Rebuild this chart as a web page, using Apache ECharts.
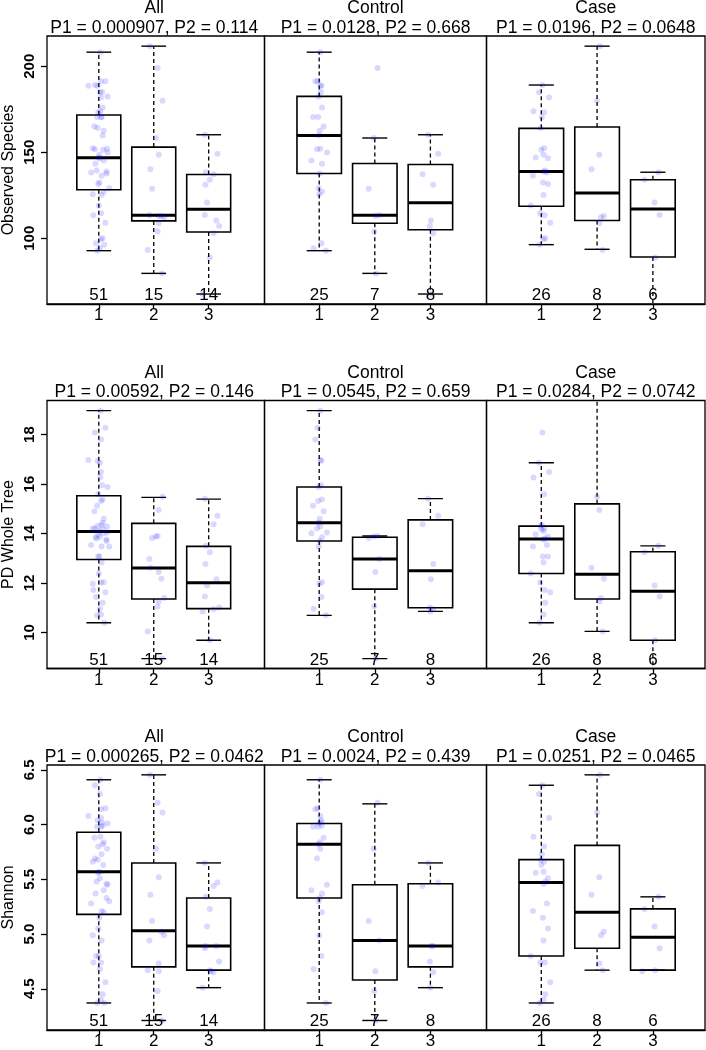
<!DOCTYPE html>
<html><head><meta charset="utf-8">
<script src="https://cdn.jsdelivr.net/npm/echarts@6/dist/echarts.min.js"></script>
<style>html,body{margin:0;padding:0;background:#fff}#c{width:706px;height:1050px}</style>
</head><body><div id="c"></div>
<script>
// ---------------- data ----------------
const panelNames = ['All', 'Control', 'Case'];
const groupLabels = ['1', '2', '3'];
const groupX = [1, 2, 3];
const countsAll = [51, 15, 14];
const countsControl = [25, 7, 8];
const countsCase = [26, 8, 6];
const metricNames = ['Observed Species', 'PD Whole Tree', 'Shannon'];

const pObs = ['P1 = 0.000907, P2 = 0.114', 'P1 = 0.0128, P2 = 0.668', 'P1 = 0.0196, P2 = 0.0648'];
const pPd  = ['P1 = 0.00592, P2 = 0.146', 'P1 = 0.0545, P2 = 0.659', 'P1 = 0.0284, P2 = 0.0742'];
const pSh  = ['P1 = 0.000265, P2 = 0.0462', 'P1 = 0.0024, P2 = 0.439', 'P1 = 0.0251, P2 = 0.0465'];

const obsTicks = [100, 150, 200];
const pdTicks = [10, 12, 14, 16, 18];
const shTicks = [4.5, 5.0, 5.5, 6.0, 6.5];
const obsLim = [61.8, 217.6];
const pdLim = [8.54, 19.38];
const shLim = [4.123, 6.545];

// box stats: [lower whisker, Q1, median, Q3, upper whisker] per group
const obsBoxAll     = [[92.8,128.2,146.8,171.7,208.2],[79.6,110.1,113.4,153.0,211.7],[67.6,103.7,116.9,137.1,160.2]];
const obsBoxControl = [[92.8,137.7,159.8,182.5,208.2],[79.6,108.7,113.4,143.5,158.3],[67.6,105.0,120.6,142.9,160.2]];
const obsBoxCase    = [[96.3,118.6,138.8,163.9,189.1],[93.6,110.3,126.4,164.7,211.7],[60.0,89.1,117.1,134.0,138.4]];
const pdBoxAll      = [[10.39,12.95,14.08,15.53,18.97],[8.94,11.35,12.61,14.41,15.46],[9.68,10.96,12.01,13.48,15.39]];
const pdBoxControl  = [[10.69,13.70,14.44,15.88,18.97],[8.94,11.75,12.97,13.85,13.90],[10.85,11.00,12.49,14.55,15.41]];
const pdBoxCase     = [[10.39,12.38,13.78,14.30,16.86],[10.04,11.35,12.35,15.20,20.0],[8.3,9.68,11.66,13.26,13.50]];
const shBoxAll      = [[4.37,5.18,5.57,5.93,6.41],[4.21,4.70,5.03,5.65,6.455],[4.51,4.67,4.89,5.33,5.65]];
const shBoxControl  = [[4.37,5.33,5.82,6.01,6.41],[4.21,4.58,4.94,5.45,6.19],[4.51,4.70,4.89,5.46,5.65]];
const shBoxCase     = [[4.37,4.80,5.47,5.68,6.36],[4.67,4.87,5.20,5.81,6.455],[4.67,4.67,4.97,5.23,5.34]];

// individual sample values per group
const obsControl = [
  [208.2,191.3,191.3,188.7,188.7,185.0,182.5,176.0,170.5,170.5,165.0,162.5,159.8,152.0,151.8,149.9,145.2,143.3,137.7,129.1,127.0,125.6,97.1,94.2,92.8],
  [199.0,158.3,128.8,113.4,113.0,103.9,79.6],
  [160.2,149.1,137.3,131.1,110.3,107.2,102.9,67.6]];
const obsCase = [
  [189.1,184.9,181.9,173.8,173.2,170.3,164.1,152.4,151.5,148.5,147.0,146.6,139.4,138.8,138.2,136.3,132.4,131.5,125.2,119.0,114.6,113.4,109.1,100.0,99.4,96.3],
  [211.7,180.0,148.5,140.2,113.0,112.2,108.7,93.2],
  [138.4,134.0,120.8,113.6,88.9,60.0]];
const pdControl = [
  [18.97,18.28,17.80,16.97,16.94,15.95,15.88,15.38,15.31,15.12,14.90,14.60,14.44,14.28,14.20,14.04,14.01,13.85,13.70,13.47,12.03,11.97,11.43,10.96,10.69],
  [13.90,13.88,13.82,12.97,12.44,11.05,8.94],
  [15.41,14.72,14.37,12.77,12.15,11.01,10.94,10.85]];
const pdCase = [
  [18.09,16.86,16.49,16.27,15.59,14.34,14.30,14.20,14.17,14.10,13.97,13.87,13.80,13.76,13.54,13.47,13.07,13.07,12.83,12.38,12.02,11.72,11.62,11.20,10.72,10.39],
  [20.0,15.49,14.95,12.62,12.17,11.39,11.25,10.04],
  [13.50,13.24,11.90,11.45,9.68,8.3]];
const shControl = [
  [6.41,6.15,6.14,6.08,6.04,6.02,6.01,5.99,5.98,5.98,5.88,5.84,5.82,5.78,5.69,5.45,5.40,5.37,5.33,5.30,5.20,4.99,4.80,4.68,4.37],
  [6.20,5.78,5.12,4.94,4.66,4.48,4.21],
  [5.65,5.47,5.44,4.89,4.89,4.75,4.65,4.51]];
const shCase = [
  [6.36,6.28,6.06,5.89,5.80,5.73,5.68,5.66,5.63,5.57,5.56,5.51,5.48,5.46,5.28,5.21,5.15,5.05,4.94,4.80,4.74,4.74,4.56,4.45,4.40,4.37],
  [6.455,6.11,5.52,5.36,5.02,4.99,4.73,4.67],
  [5.34,5.23,5.07,4.87,4.67,4.66]];

// horizontal jitter offsets (category units) used for the strip points
const jitterPattern = [0.02,-0.03,-0.07,0.02,0.04,0.03,-0.01,0.05,-0.02,-0.11,0.08,0.01,-0.01,0.02,-0.04,0.14,-0.14,0.05,0.01,-0.01,0.05,0.00,0.04,-0.10,0.12,0.07,0.04,0.10,-0.15,0.03,0.12,0.04,-0.19,-0.02,0.06,0.16,0.07,0.04,-0.03,-0.08,0.09,0.07,0.15,-0.07,0.16,0.09,-0.06,0.14,0.19,0.09,-0.11,-0.05];

// ---------------- layout / style ----------------
const FONT = '"Liberation Sans", Arial, sans-serif';
const panelLeft = [44, 264.5, 486.5];
const panelWidth = [220.5, 222, 218.5];
const panelXMin = [0.057, 0.016, 0.018];
const panelXMax = [4.016, 4.009, 3.934];
const rowTop = [36, 400.5, 765];
const rowHeight = 268;
const BOX_W = 0.8, CAP_W = 0.45;

const rows = [
  { name: metricNames[0], ticks: obsTicks, lim: obsLim, p: pObs, fmt: v => String(v),
    boxes: [obsBoxAll, obsBoxControl, obsBoxCase], ctrl: obsControl, cases: obsCase },
  { name: metricNames[1], ticks: pdTicks, lim: pdLim, p: pPd, fmt: v => String(v),
    boxes: [pdBoxAll, pdBoxControl, pdBoxCase], ctrl: pdControl, cases: pdCase },
  { name: metricNames[2], ticks: shTicks, lim: shLim, p: pSh, fmt: v => v.toFixed(1),
    boxes: [shBoxAll, shBoxControl, shBoxCase], ctrl: shControl, cases: shCase }
];
const countsByPanel = [countsAll, countsControl, countsCase];

function renderBox(params, api) {
  const x = api.value(0);
  const lo = api.value(1), q1 = api.value(2), med = api.value(3), q3 = api.value(4), hi = api.value(5);
  const cx = api.coord([x, med])[0];
  const yLo = api.coord([x, lo])[1], yQ1 = api.coord([x, q1])[1], yMed = api.coord([x, med])[1];
  const yQ3 = api.coord([x, q3])[1], yHi = api.coord([x, hi])[1];
  const bw = api.size([BOX_W, 0])[0], cw = api.size([CAP_W, 0])[0];
  const dash = { stroke: '#000', lineWidth: 1.3, lineDash: [4, 3] };
  const solid = { stroke: '#000', lineWidth: 1.4 };
  return { type: 'group', children: [
    { type: 'line', shape: { x1: cx, y1: yQ3, x2: cx, y2: yHi }, style: dash },
    { type: 'line', shape: { x1: cx, y1: yQ1, x2: cx, y2: yLo }, style: dash },
    { type: 'line', shape: { x1: cx - cw / 2, y1: yHi, x2: cx + cw / 2, y2: yHi }, style: solid },
    { type: 'line', shape: { x1: cx - cw / 2, y1: yLo, x2: cx + cw / 2, y2: yLo }, style: solid },
    { type: 'rect', shape: { x: cx - bw / 2, y: yQ3, width: bw, height: yQ1 - yQ3 },
      style: { fill: 'rgba(0,0,0,0)', stroke: '#000', lineWidth: 1.6 } },
    { type: 'line', shape: { x1: cx - bw / 2, y1: yMed, x2: cx + bw / 2, y2: yMed },
      style: { stroke: '#000', lineWidth: 3 } }
  ] };
}

function renderCount(params, api) {
  const x = api.value(0);
  const cs = params.coordSys;
  const px = api.coord([x, api.value(2)])[0];
  return { type: 'text', style: { text: String(api.value(1)), x: px, y: cs.y + cs.height - 8.5,
    align: 'center', verticalAlign: 'middle', fill: '#000', font: '17px ' + FONT } };
}

const grids = [], xAxes = [], yAxes = [], series = [], graphics = [];
rows.forEach((row, r) => {
  for (let p = 0; p < 3; p++) {
    const k = r * 3 + p;
    grids.push({ left: panelLeft[p], top: rowTop[r], width: panelWidth[p], height: rowHeight,
      show: true, borderColor: '#000', borderWidth: 1.3, backgroundColor: 'rgba(0,0,0,0)' });
    xAxes.push({ type: 'value', gridIndex: k, min: panelXMin[p], max: panelXMax[p],
      axisLine: { show: true, onZero: false, lineStyle: { color: '#000', width: 1.3 } },
      axisTick: { show: true, customValues: groupX, length: 5, lineStyle: { color: '#000', width: 1.3 } },
      axisLabel: { show: true, customValues: groupX, formatter: v => groupLabels[Math.round(v) - 1],
        fontSize: 17, color: '#000', margin: 3, fontFamily: FONT },
      splitLine: { show: false } });
    const first = p === 0;
    yAxes.push({ type: 'value', gridIndex: k, min: row.lim[0], max: row.lim[1],
      axisLine: { show: false },
      axisTick: first ? { show: true, customValues: row.ticks, length: 6, lineStyle: { color: '#000', width: 1.3 } } : { show: false },
      axisLabel: first ? { show: true, customValues: row.ticks, rotate: 90, formatter: row.fmt, margin: 10,
        fontSize: 15, fontWeight: 'bold', color: '#000', fontFamily: FONT } : { show: false },
      splitLine: { show: false },
      name: first ? row.name : '', nameLocation: 'middle', nameRotate: 90, nameGap: 30,
      nameTextStyle: { fontSize: 16, color: '#000', fontFamily: FONT } });

    const boxStats = row.boxes[p];
    series.push({ type: 'custom', xAxisIndex: k, yAxisIndex: k, clip: true, silent: true, z: 2,
      renderItem: renderBox, encode: { x: 0, y: [1, 2, 3, 4, 5] },
      data: groupX.map((gx, g) => [gx].concat(boxStats[g])) });

    const pts = [];
    groupX.forEach((gx, g) => {
      let vals, off;
      if (p === 0) { vals = row.ctrl[g].concat(row.cases[g]); off = 29; }
      else if (p === 1) { vals = row.ctrl[g]; off = 0; }
      else { vals = row.cases[g]; off = 13; }
      vals.forEach((v, i) => pts.push([gx + jitterPattern[(i + off + g * 7) % jitterPattern.length], v]));
    });
    series.push({ type: 'scatter', xAxisIndex: k, yAxisIndex: k, clip: true, silent: true, z: 3,
      symbol: 'circle', symbolSize: 6, itemStyle: { color: 'rgba(0,0,255,0.19)' }, data: pts });

    series.push({ type: 'custom', xAxisIndex: k, yAxisIndex: k, silent: true, z: 4,
      renderItem: renderCount, encode: { x: 0, y: 2 },
      data: groupX.map((gx, g) => [gx, countsByPanel[p][g], row.lim[0]]) });

    const cx = panelLeft[p] + panelWidth[p] / 2;
    graphics.push({ type: 'text', x: cx, y: rowTop[r] - 27.5, silent: true,
      style: { text: panelNames[p], align: 'center', verticalAlign: 'middle', fill: '#000', font: '17.5px ' + FONT } });
    graphics.push({ type: 'text', x: cx, y: rowTop[r] - 8, silent: true,
      style: { text: row.p[p], align: 'center', verticalAlign: 'middle', fill: '#000', font: '17.5px ' + FONT } });
  }
});

const chart = echarts.init(document.getElementById('c'), null, { renderer: 'canvas' });
chart.setOption({
  animation: false,
  backgroundColor: '#fff',
  grid: grids, xAxis: xAxes, yAxis: yAxes, series: series, graphic: graphics
});
</script></body></html>
